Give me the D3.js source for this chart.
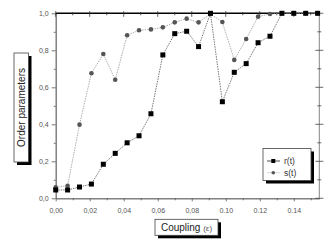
<!DOCTYPE html>
<html>
<head>
<meta charset="utf-8">
<script src="https://cdn.jsdelivr.net/npm/d3@7"></script>
<style>
  body { margin: 0; background: #fff; }
  text { font-family: "Liberation Sans", Arial, sans-serif; }
</style>
</head>
<body>
<div id="chart"></div>
<script>
// Order parameters vs coupling
const coupling = [0, 0.007, 0.014, 0.021, 0.028, 0.035, 0.042, 0.049, 0.056, 0.063, 0.070, 0.077,
                  0.084, 0.091, 0.098, 0.105, 0.112, 0.119, 0.126, 0.133, 0.140, 0.147, 0.154];
const rValues = [0.045, 0.045, 0.061, 0.077, 0.184, 0.243, 0.300, 0.338, 0.457, 0.775, 0.890, 0.903,
                 0.820, 1.0, 0.522, 0.681, 0.728, 0.841, 0.876, 1.0, 1.0, 1.0, 1.0];
const sValues = [0.059, 0.068, 0.398, 0.676, 0.780, 0.641, 0.881, 0.908, 0.913, 0.924, 0.951, 0.971,
                 0.951, 0.996, 0.953, 0.748, 0.861, 0.982, 0.996, 1.0, 1.0, 1.0, 1.0];
const xTicks = [0, 0.02, 0.04, 0.06, 0.08, 0.10, 0.12, 0.14];
const xTickLabels = ["0,00", "0,02", "0,04", "0,06", "0,08", "0.10", "0.12", "0.14"];
const yTicks = [0, 0.2, 0.4, 0.6, 0.8, 1.0];
const yTickLabels = ["0,0", "0,2", "0,4", "0,6", "0,8", "1,0"];
const seriesNames = ["r(t)", "s(t)"];

const W = 335, H = 245;
const margin = { top: 13.3, right: 15.7, bottom: 46.7, left: 55.7 };
const width = W - margin.left - margin.right;
const height = H - margin.top - margin.bottom;

const root = d3.select("#chart").append("svg")
    .attr("width", W).attr("height", H);
const svg = root.append("g")
    .attr("transform", `translate(${margin.left},${margin.top})`);

const x = d3.scaleLinear().domain([0, 0.155]).range([0, width]);
const y = d3.scaleLinear().domain([0, 1]).range([height, 0]);

const xMinor = d3.range(0.01, 0.155, 0.02);
const yMinor = d3.range(0.1, 1, 0.2);

// bottom axis
const bottom = svg.append("g")
    .attr("transform", `translate(0,${height})`)
    .call(d3.axisBottom(x).tickValues(xTicks).tickSize(3).tickSizeOuter(0)
        .tickFormat((d, i) => xTickLabels[i]));
svg.append("g")
    .attr("transform", `translate(0,${height})`)
    .call(d3.axisBottom(x).tickValues(xMinor).tickSize(2).tickSizeOuter(0).tickFormat(""));

// left axis
svg.append("g")
    .call(d3.axisLeft(y).tickValues(yTicks).tickSize(4).tickSizeOuter(0)
        .tickFormat((d, i) => yTickLabels[i]));
svg.append("g")
    .call(d3.axisLeft(y).tickValues(yMinor).tickSize(2).tickSizeOuter(0).tickFormat(""));

svg.selectAll(".domain").attr("stroke", "#666").attr("stroke-width", 0.8);
svg.selectAll(".tick line").attr("stroke", "#555").attr("stroke-width", 0.8);
svg.selectAll(".tick text").attr("fill", "#555").attr("font-size", 7)
    .attr("font-family", "'Liberation Sans', Arial, sans-serif");
bottom.selectAll(".tick text").attr("dy", "1.2em");

// top axis (black, ticks crossing)
svg.append("line").attr("x1", 0).attr("x2", width).attr("y1", 0).attr("y2", 0)
    .attr("stroke", "#000").attr("stroke-width", 1.6);
svg.append("g").selectAll("line")
    .data(xTicks.map(v => ({ v, s: 3.5 })).concat(xMinor.map(v => ({ v, s: 2 }))))
    .join("line")
    .attr("x1", d => x(d.v)).attr("x2", d => x(d.v))
    .attr("y1", d => -d.s * 0.6).attr("y2", d => d.s)
    .attr("stroke", "#333").attr("stroke-width", 0.8);

// right axis
svg.append("line").attr("x1", width).attr("x2", width).attr("y1", 0).attr("y2", height)
    .attr("stroke", "#666").attr("stroke-width", 0.8);
svg.append("g").selectAll("line")
    .data(yTicks.map(v => ({ v, s: 4 })).concat(yMinor.map(v => ({ v, s: 2 }))))
    .join("line")
    .attr("x1", d => width - d.s).attr("x2", d => width + d.s)
    .attr("y1", d => y(d.v)).attr("y2", d => y(d.v))
    .attr("stroke", "#444").attr("stroke-width", 0.8);

// series
const rData = coupling.map((c, i) => ({ c, v: rValues[i] }));
const sData = coupling.map((c, i) => ({ c, v: sValues[i] }));
const line = d3.line().x(d => x(d.c)).y(d => y(d.v));

svg.append("path").datum(sData).attr("d", line)
    .attr("fill", "none").attr("stroke", "#999").attr("stroke-width", 0.8)
    .attr("stroke-dasharray", "1.5,1");
svg.append("path").datum(rData).attr("d", line)
    .attr("fill", "none").attr("stroke", "#555").attr("stroke-width", 0.8)
    .attr("stroke-dasharray", "1.5,1");

svg.selectAll(".s-dot").data(sData).join("circle")
    .attr("class", "s-dot")
    .attr("cx", d => x(d.c)).attr("cy", d => y(d.v)).attr("r", 2.3)
    .attr("fill", "#555");
svg.selectAll(".r-dot").data(rData).join("rect")
    .attr("class", "r-dot")
    .attr("x", d => x(d.c) - 2.5).attr("y", d => y(d.v) - 2.5)
    .attr("width", 5).attr("height", 5)
    .attr("fill", "#000");

// boxed label helper with drop shadow
function shadowBox(g, bx, by, bw, bh) {
    g.append("rect").attr("x", bx + 3).attr("y", by + 3).attr("width", bw).attr("height", bh)
        .attr("fill", "#000");
    g.append("rect").attr("x", bx).attr("y", by).attr("width", bw).attr("height", bh)
        .attr("fill", "#fff").attr("stroke", "#444").attr("stroke-width", 0.8);
}

// y label
const yl = root.append("g");
shadowBox(yl, 14, 53, 14.5, 109);
yl.append("text")
    .attr("transform", "translate(24.5,107.5) rotate(-90)")
    .attr("text-anchor", "middle")
    .attr("font-size", 10).attr("fill", "#222")
    .text("Order parameters");

// x label
const xl = root.append("g");
shadowBox(xl, 155, 219.3, 63, 16);
const xt = xl.append("text")
    .attr("x", 186.5).attr("y", 231)
    .attr("text-anchor", "middle")
    .attr("font-size", 10).attr("fill", "#222");
xt.append("tspan").text("Coupling ");
xt.append("tspan").attr("font-size", 8).attr("fill", "#555").text("(ε)");

// legend
const lg = root.append("g");
shadowBox(lg, 263, 148.5, 48, 32);
const legendRows = [
    { name: seriesNames[0], color: "#000", lineColor: "#222" },
    { name: seriesNames[1], color: "#555", lineColor: "#ccc" }
];
legendRows.forEach((row, i) => {
    const ly = 161 + i * 11.7;
    lg.append("line").attr("x1", 267).attr("x2", 280).attr("y1", ly).attr("y2", ly)
        .attr("stroke", row.lineColor).attr("stroke-width", 0.8);
    if (i === 0) {
        lg.append("rect").attr("x", 271.3).attr("y", ly - 2).attr("width", 4).attr("height", 4)
            .attr("fill", row.color);
    } else {
        lg.append("circle").attr("cx", 273.3).attr("cy", ly).attr("r", 1.8).attr("fill", row.color);
    }
    lg.append("text").attr("x", 284).attr("y", ly + 3)
        .attr("font-size", 8.5).attr("fill", "#333").text(row.name);
});
</script>
</body>
</html>
